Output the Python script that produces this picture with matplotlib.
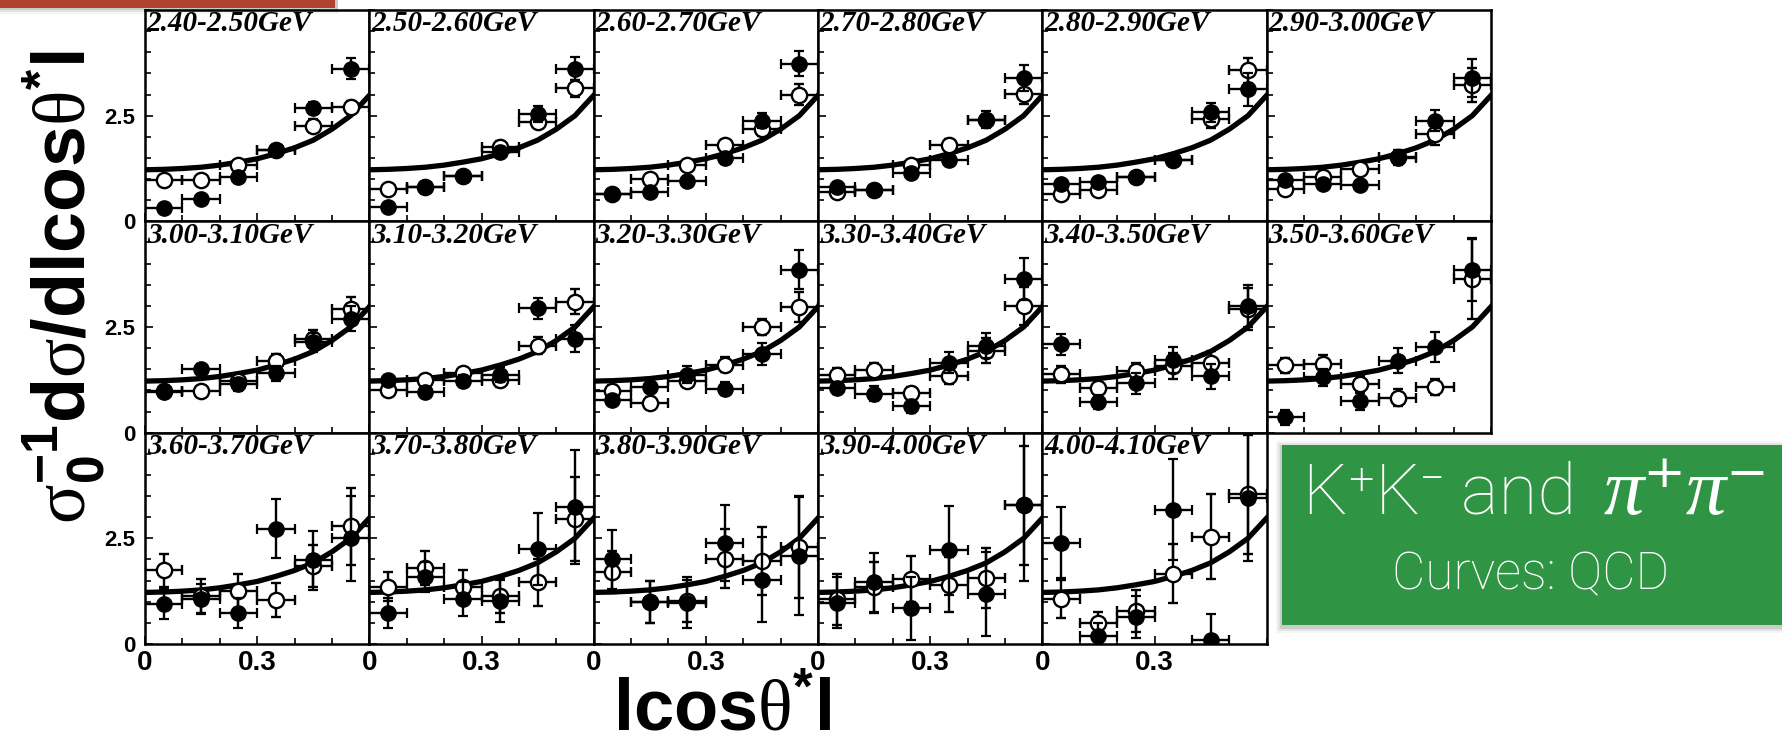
import matplotlib
matplotlib.use("Agg")
import matplotlib.pyplot as plt
from matplotlib.patches import Rectangle
from matplotlib.ticker import MultipleLocator

plt.rcParams.update({
    "mathtext.fontset": "custom",
    "mathtext.rm": "Liberation Sans:bold",
    "mathtext.it": "Liberation Sans:bold",
    "mathtext.bf": "Liberation Sans:bold",
    "mathtext.sf": "Liberation Serif",
})

# W bins (one panel each)
BINS = [
    "2.40-2.50GeV", "2.50-2.60GeV", "2.60-2.70GeV", "2.70-2.80GeV", "2.80-2.90GeV", "2.90-3.00GeV",
    "3.00-3.10GeV", "3.10-3.20GeV", "3.20-3.30GeV", "3.30-3.40GeV", "3.40-3.50GeV", "3.50-3.60GeV",
    "3.60-3.70GeV", "3.70-3.80GeV", "3.80-3.90GeV", "3.90-4.00GeV", "4.00-4.10GeV",
]
COS_CENTERS = [0.05, 0.15, 0.25, 0.35, 0.45, 0.55]
COS_HALF = 0.05

# filled circles
KK_Y = [
    [0.32, 0.54, 1.06, 1.69, 2.68, 3.61], [0.35, 0.81, 1.07, 1.64, 2.54, 3.61],
    [0.65, 0.69, 0.95, 1.49, 2.38, 3.73], [0.82, 0.73, 1.15, 1.45, 2.40, 3.39],
    [0.89, 0.93, 1.05, 1.45, 2.58, 3.12], [0.97, 0.89, 0.86, 1.49, 2.38, 3.39],
    [0.97, 1.50, 1.14, 1.40, 2.14, 2.70], [1.24, 0.97, 1.22, 1.37, 2.94, 2.22],
    [0.78, 1.09, 1.37, 1.04, 1.86, 3.86], [1.06, 0.92, 0.62, 1.66, 2.06, 3.64],
    [2.09, 0.72, 1.17, 1.72, 1.33, 3.00], [0.36, 1.31, 0.74, 1.70, 2.03, 3.86],
    [0.94, 1.06, 0.74, 2.73, 1.98, 2.50], [0.74, 1.58, 1.06, 1.02, 2.24, 3.24],
    [2.00, 1.00, 0.98, 2.40, 1.52, 2.08], [0.98, 1.46, 0.84, 2.22, 1.18, 3.28],
    [2.40, 0.20, 0.64, 3.18, 0.10, 3.46],
]
KK_ERR = [
    [0.08, 0.08, 0.10, 0.12, 0.15, 0.25], [0.08, 0.08, 0.10, 0.12, 0.20, 0.27],
    [0.08, 0.08, 0.10, 0.12, 0.18, 0.30], [0.08, 0.08, 0.12, 0.14, 0.20, 0.30],
    [0.08, 0.08, 0.10, 0.15, 0.22, 0.40], [0.10, 0.10, 0.10, 0.15, 0.25, 0.45],
    [0.10, 0.12, 0.15, 0.18, 0.22, 0.30], [0.12, 0.12, 0.15, 0.18, 0.25, 0.32],
    [0.12, 0.15, 0.20, 0.15, 0.25, 0.45], [0.15, 0.18, 0.15, 0.25, 0.30, 0.50],
    [0.25, 0.17, 0.25, 0.30, 0.30, 0.50], [0.17, 0.20, 0.20, 0.30, 0.35, 0.75],
    [0.35, 0.35, 0.35, 0.70, 0.70, 1.00], [0.35, 0.35, 0.40, 0.50, 0.85, 1.35],
    [0.70, 0.50, 0.60, 0.90, 1.00, 1.40], [0.60, 0.70, 0.75, 1.05, 1.00, 1.80],
    [0.85, 0.30, 0.50, 1.20, 0.60, 1.50],
]

# open circles
PIPI_Y = [
    [0.98, 0.98, 1.33, 1.68, 2.26, 2.70], [0.77, 0.82, 1.07, 1.77, 2.36, 3.15],
    [0.65, 0.99, 1.33, 1.81, 2.18, 3.00], [0.69, 0.73, 1.33, 1.81, 2.40, 3.02],
    [0.65, 0.73, 1.05, 1.45, 2.42, 3.57], [0.77, 1.05, 1.25, 1.53, 2.06, 3.23],
    [0.99, 0.98, 1.22, 1.70, 2.22, 2.92], [1.00, 1.24, 1.40, 1.24, 2.06, 3.10],
    [0.98, 0.70, 1.22, 1.61, 2.50, 2.98], [1.37, 1.48, 0.94, 1.34, 1.94, 3.00],
    [1.38, 1.06, 1.46, 1.58, 1.64, 2.92], [1.59, 1.63, 1.16, 0.83, 1.08, 3.63],
    [1.74, 1.14, 1.26, 1.04, 1.84, 2.78], [1.36, 1.80, 1.36, 1.14, 1.46, 2.96],
    [1.70, 1.00, 1.02, 2.02, 1.96, 2.30], [1.06, 1.34, 1.54, 1.40, 1.56, 3.28],
    [1.06, 0.50, 0.78, 1.66, 2.54, 3.54],
]
PIPI_ERR = [
    [0.08, 0.08, 0.10, 0.12, 0.15, 0.15], [0.08, 0.08, 0.10, 0.12, 0.15, 0.20],
    [0.08, 0.10, 0.10, 0.12, 0.15, 0.25], [0.08, 0.08, 0.10, 0.14, 0.15, 0.25],
    [0.08, 0.08, 0.10, 0.12, 0.20, 0.30], [0.10, 0.10, 0.12, 0.15, 0.25, 0.40],
    [0.10, 0.10, 0.12, 0.15, 0.20, 0.30], [0.10, 0.12, 0.13, 0.15, 0.20, 0.30],
    [0.15, 0.15, 0.15, 0.18, 0.20, 0.35], [0.15, 0.17, 0.15, 0.20, 0.30, 0.45],
    [0.20, 0.15, 0.20, 0.30, 0.30, 0.50], [0.18, 0.20, 0.18, 0.20, 0.20, 0.95],
    [0.40, 0.40, 0.40, 0.40, 0.50, 0.90], [0.35, 0.40, 0.40, 0.40, 0.55, 1.00],
    [0.50, 0.50, 0.50, 0.70, 0.80, 1.20], [0.60, 0.60, 0.55, 0.65, 0.70, 1.40],
    [0.45, 0.25, 0.50, 0.70, 1.00, 1.40],
]

# QCD curve (same in every panel)
QCD_COS = [0.0, 0.05, 0.10, 0.15, 0.20, 0.25, 0.30, 0.35, 0.40, 0.45, 0.50, 0.55, 0.60]
QCD_VAL = [1.22, 1.23, 1.25, 1.28, 1.33, 1.40, 1.48, 1.60, 1.74, 1.92, 2.18, 2.50, 2.98]

W, H = 1782, 747
fig = plt.figure(figsize=(W / 100, H / 100), dpi=100)
gs = fig.add_gridspec(3, 6, left=145 / W, right=1491 / W, top=1 - 10 / H, bottom=1 - 644 / H,
                      wspace=0, hspace=0)

for i, label in enumerate(BINS):
    row, col = divmod(i, 6)
    ax = fig.add_subplot(gs[row, col])
    ax.plot(QCD_COS, QCD_VAL, color="black", lw=3.8, zorder=2)
    ax.errorbar(COS_CENTERS, PIPI_Y[i], xerr=COS_HALF, yerr=PIPI_ERR[i], fmt="o",
                mfc="white", mec="black", mew=1.7, ms=11, ecolor="black",
                elinewidth=1.7, capsize=3.5, capthick=1.6, zorder=3)
    ax.errorbar(COS_CENTERS, KK_Y[i], xerr=COS_HALF, yerr=KK_ERR[i], fmt="o",
                mfc="black", mec="black", ms=11, ecolor="black",
                elinewidth=1.7, capsize=3.5, capthick=1.6, zorder=4)
    ax.set_xlim(0, 0.6)
    ax.set_ylim(0, 5)
    ax.set_xticks([0, 0.3])
    ax.set_xticklabels(["0", "0.3"])
    ax.set_yticks([0, 2.5])
    ax.set_yticklabels(["0", "2.5"])
    ax.xaxis.set_minor_locator(MultipleLocator(0.1))
    ax.yaxis.set_minor_locator(MultipleLocator(0.5))
    ax.tick_params(which="both", direction="in", width=1.2, top=False, right=False)
    ax.tick_params(which="major", length=6)
    ax.tick_params(which="minor", length=4)
    ax.tick_params(axis="x", labelsize=20, pad=4, labelbottom=(row == 2))
    ax.tick_params(axis="y", labelsize=16, pad=7, labelleft=(col == 0))
    for t in ax.get_xticklabels() + ax.get_yticklabels():
        t.set_fontfamily("Liberation Sans")
        t.set_fontweight("bold")
    for s in ax.spines.values():
        s.set_linewidth(1.8)
    ax.text(0.008, 0.998, label, transform=ax.transAxes, ha="left", va="top",
            fontsize=21, family="Liberation Serif", weight="bold", style="italic")

# axis titles (the bars are drawn as bold "l", as in the original)
fig.text(64 / W, 1 - 287 / H,
         r"$\mathsf{\sigma}_{0}^{-1}\mathrm{d}\mathsf{\sigma}\mathrm{/dlcos}\mathsf{\theta}^{*}\mathrm{l}$",
         rotation=90, fontsize=53, ha="center", va="center")
fig.text(722 / W, 2 / H, r"$\mathrm{lcos}\mathsf{\theta}^{*}\mathrm{l}$",
         fontsize=52, ha="center", va="bottom")

# red bar at the top left
for k, a in enumerate([0.10, 0.07, 0.04]):
    fig.patches.append(Rectangle((0, 1 - (10 + k * 2) / H), 338 / W, (10 + k * 2) / H,
                                 transform=fig.transFigure, color="black", alpha=a, lw=0))
fig.patches.append(Rectangle((0, 1 - 8 / H), 335 / W, 8 / H, transform=fig.transFigure,
                             color="#b0432f", lw=0))

# green note box
for k, a in enumerate([0.10, 0.07, 0.04]):
    pad = (k + 1) * 2
    fig.patches.append(Rectangle(((1282 - pad) / W, 1 - (625 + pad + 2) / H), (510 + pad) / W,
                                 (180 + 2 * pad) / H, transform=fig.transFigure,
                                 color="black", alpha=a, lw=0))
fig.patches.append(Rectangle((1282 / W, 1 - 625 / H), 500 / W, 180 / H,
                             transform=fig.transFigure, color="#2f9444", lw=0))
fig.text(1303 / W, 1 - 514 / H, "K\u207aK\u207b and", fontsize=51, color="white",
         family=["Roboto", "DejaVu Sans"], weight="light", ha="left", va="baseline")
fig.text(1604 / W, 1 - 514 / H, "\u03c0\u207a\u03c0\u207b", fontsize=58, color="white",
         family=["Liberation Serif", "DejaVu Serif"], style="italic", ha="left", va="baseline")
fig.text(1531 / W, 1 - 589 / H, "Curves: QCD", fontsize=37, color="white",
         family=["Roboto", "DejaVu Sans"], weight="light", ha="center", va="baseline")

fig.savefig("out.png", dpi=100)
